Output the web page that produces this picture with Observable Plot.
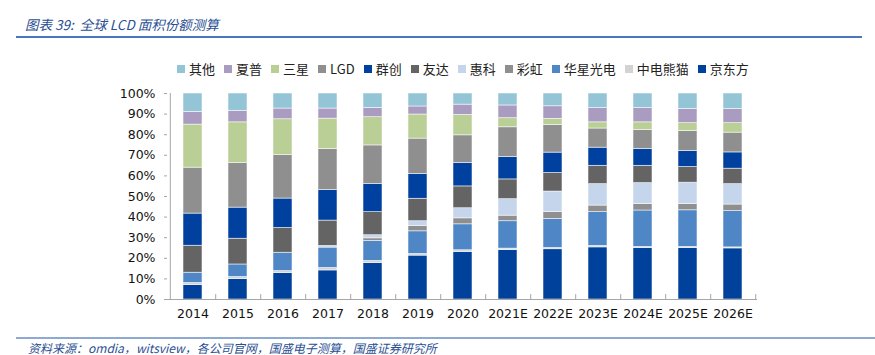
<!DOCTYPE html>
<html><head><meta charset="utf-8">
<script src="https://cdn.jsdelivr.net/npm/d3@7"></script>
<script src="https://cdn.jsdelivr.net/npm/@observablehq/plot@0.6"></script>
<style>
body{margin:0;background:#fff;}
#wrap{position:relative;width:875px;height:355px;overflow:hidden;background:#fff;}
#title{position:absolute;left:25px;top:14px;font:italic 13.5px "Noto Sans CJK SC","DejaVu Sans",sans-serif;color:#2a4f93;white-space:nowrap;}
#topRule{position:absolute;left:16px;top:36px;width:846px;height:1.5px;background:#4a76bd;}
#botRule{position:absolute;left:16px;top:337px;width:859px;height:2px;background:#8eaad3;}
#legend{position:absolute;top:52px;left:177px;}
#chart{position:absolute;left:0;top:80px;}
#source{position:absolute;left:28px;top:341px;font:italic 12px/13px "Noto Sans CJK SC","DejaVu Sans",sans-serif;color:#2a4f93;white-space:nowrap;}
.lg-swatches{font-family:"Noto Sans CJK SC","DejaVu Sans",sans-serif !important;font-size:13px !important;color:#222;}
.lg-swatch{margin-right:9px !important;}
.lg-swatch svg{margin-right:4px !important;}
</style>
</head><body>
<div id="wrap">
  <div id="title">图表 39:&nbsp; 全球 LCD 面积份额测算</div>
  <div id="topRule"></div>
  <div id="legend"></div>
  <div id="chart"></div>
  <div id="botRule"></div>
  <div id="source">资料来源：omdia，witsview，各公司官网，国盛电子测算，国盛证券研究所</div>
</div>
<script>
const years = ["2014","2015","2016","2017","2018","2019","2020","2021E","2022E","2023E","2024E","2025E","2026E"];
// series, bottom to top
const boe     = [7.0, 9.9, 12.8, 14.1, 17.7, 21.3, 23.1, 24.0, 24.4, 25.3, 25.0, 25.0, 24.8];
const panda   = [1.0, 1.0, 1.0, 1.2, 1.0, 0.8, 0.8, 0.7, 0.6, 0.7, 0.5, 0.5, 0.5];
const csot    = [5.0, 6.1, 8.9, 9.9, 9.7, 11.0, 12.6, 13.3, 14.1, 16.4, 17.7, 17.8, 17.6];
const irico   = [0, 0, 0, 0, 1.3, 2.5, 2.9, 2.7, 3.3, 3.2, 3.1, 3.0, 3.2];
const hkc     = [0, 0, 0, 0.8, 1.5, 2.4, 4.9, 8.0, 10.0, 10.4, 10.2, 10.4, 9.9];
const auo     = [13.1, 12.5, 12.0, 12.3, 11.2, 10.9, 10.6, 9.6, 9.0, 8.9, 8.4, 7.6, 7.5];
const innolux = [15.6, 15.1, 14.3, 14.8, 13.6, 12.0, 11.3, 10.9, 9.9, 8.8, 8.2, 7.8, 7.9];
const lgd     = [22.3, 21.6, 21.1, 20.0, 18.8, 17.2, 13.5, 14.4, 13.4, 9.3, 9.2, 9.7, 9.6];
const samsung = [20.9, 19.8, 17.4, 14.7, 13.7, 11.7, 9.9, 4.4, 3.0, 3.0, 3.7, 3.8, 4.6];
const sharp   = [6.2, 5.6, 5.2, 4.9, 4.5, 3.9, 5.0, 6.2, 6.1, 6.9, 6.9, 6.9, 6.9];
const others  = [8.9, 8.4, 7.3, 7.3, 7.0, 6.3, 5.4, 5.8, 6.2, 7.1, 7.1, 7.5, 7.5];

const seriesNames = ["京东方","中电熊猫","华星光电","彩虹","惠科","友达","群创","LGD","三星","夏普","其他"];
const seriesValues = [boe, panda, csot, irico, hkc, auo, innolux, lgd, samsung, sharp, others];
const seriesColors = ["#00419b","#d3d3d3","#4f86c6","#8f8f8f","#c4d5ec","#646464","#0041a0","#8f8f8f","#b9cf95","#a99cc0","#93c5d6"];
const yTicks = [0,10,20,30,40,50,60,70,80,90,100];

const legendOrder = seriesNames.slice().reverse();
const legendColors = seriesColors.slice().reverse();

const rows = [];
seriesNames.forEach((name, i) => {
  years.forEach((yr, j) => {
    rows.push({year: yr, company: name, value: seriesValues[i][j]});
  });
});
const data = rows.filter(d => d.value > 0);

const W = 875, H = 260, mL = 167, mR = 118;
const halfStep = (W - mL - mR) / years.length / 2;

const plot = Plot.plot({
  width: W, height: H,
  marginLeft: mL, marginRight: mR, marginTop: 13, marginBottom: 41,
  style: {fontFamily: "DejaVu Sans, sans-serif", fontSize: "12px", color: "#111", overflow: "visible"},
  x: {domain: years, paddingInner: 0.58, paddingOuter: 0.29, label: null},
  y: {domain: [0, 100], label: null},
  color: {domain: legendOrder, range: legendColors},
  marks: [
    Plot.barY(data, Plot.stackY({
      x: "year", y: "value", z: "company", fill: "company",
      order: seriesNames,
      stroke: "#ffffff", strokeOpacity: 0.75, strokeWidth: 0.7
    })),
    Plot.ruleY([0], {stroke: "#a6a6a6", strokeWidth: 1}),
    Plot.ruleX(years, {x: d => d, y1: 0, y2: 2.4, dx: halfStep, stroke: "#a6a6a6"}),
    Plot.axisX({ticks: years, tickSize: 0, tickPadding: 10, fontSize: 12.5}),
    Plot.axisY({ticks: yTicks, tickFormat: d => d + "%", tickSize: 3, tickPadding: 9, stroke: "#a6a6a6", fontSize: 12.5}),
    Plot.ruleX([years[0]], {x: d => d, y1: 0, y2: 100, dx: -halfStep, stroke: "#a6a6a6"})
  ]
});
document.getElementById("chart").appendChild(plot);

const lg = Plot.legend({
  color: {domain: legendOrder, range: legendColors},
  legend: "swatches",
  swatchSize: 8,
  className: "lg"
});
document.getElementById("legend").appendChild(lg);
</script>
</body></html>
